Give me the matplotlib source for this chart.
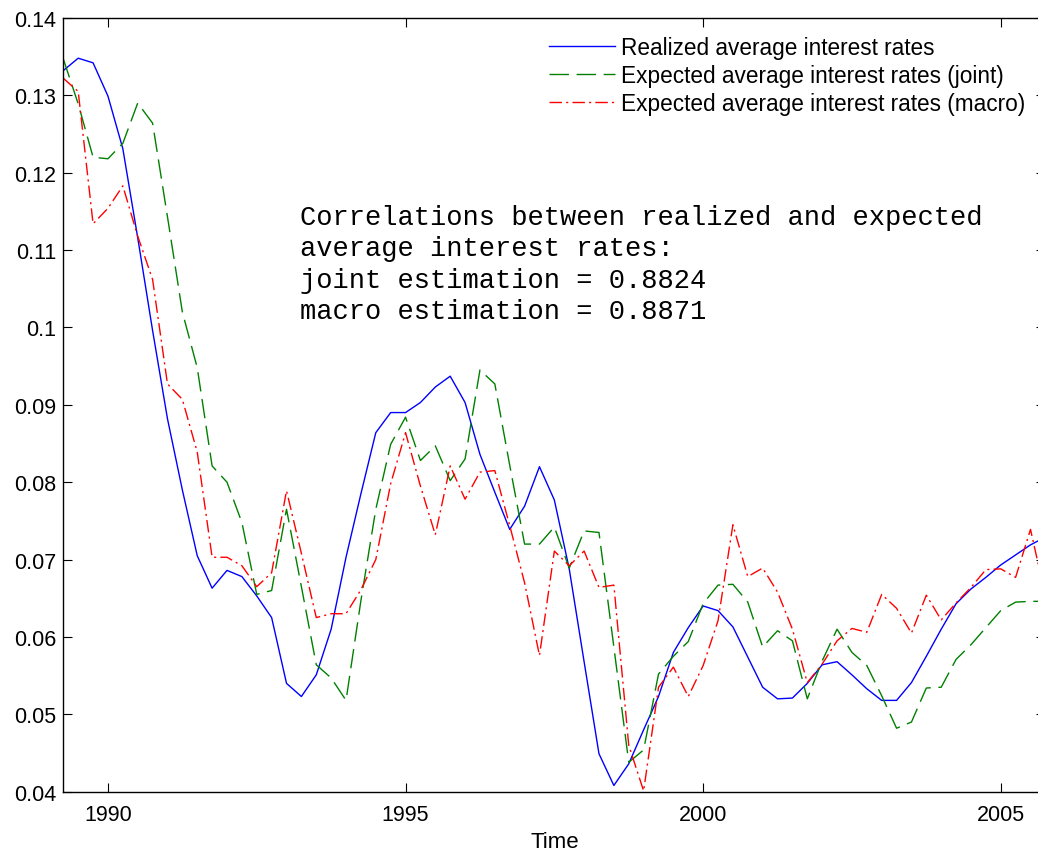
import numpy as np
import matplotlib
matplotlib.use("Agg")
import matplotlib.pyplot as plt

# quarterly observations, 1989Q2 .. 2005Q4
t = 1989.25 + 0.25 * np.arange(67)

realized = [0.1332, 0.1348, 0.1342, 0.1299, 0.1231, 0.1116, 0.0996, 0.0882, 0.0790, 0.0705,
            0.0663, 0.0686, 0.0678, 0.0653, 0.0625, 0.0540, 0.0523, 0.0551, 0.0610, 0.0703,
            0.0785, 0.0864, 0.0890, 0.0890, 0.0903, 0.0923, 0.0937, 0.0903, 0.0836, 0.0787,
            0.0739, 0.0769, 0.0820, 0.0777, 0.0688, 0.0568, 0.0449, 0.0408, 0.0436, 0.0480,
            0.0523, 0.0580, 0.0612, 0.0640, 0.0634, 0.0613, 0.0574, 0.0535, 0.0520, 0.0521,
            0.0540, 0.0564, 0.0568, 0.0551, 0.0533, 0.0518, 0.0518, 0.0541, 0.0575, 0.0610,
            0.0643, 0.0662, 0.0677, 0.0693, 0.0706, 0.0719, 0.0729]

joint = [0.1347, 0.1289, 0.1220, 0.1218, 0.1238, 0.1290, 0.1264, 0.1143, 0.1020, 0.0948,
         0.0821, 0.0800, 0.0748, 0.0655, 0.0660, 0.0765, 0.0665, 0.0564, 0.0547, 0.0518,
         0.0647, 0.0765, 0.0849, 0.0884, 0.0828, 0.0847, 0.0802, 0.0830, 0.0945, 0.0927,
         0.0822, 0.0720, 0.0720, 0.0742, 0.0689, 0.0737, 0.0735, 0.0587, 0.0438, 0.0454,
         0.0552, 0.0575, 0.0594, 0.0643, 0.0667, 0.0668, 0.0645, 0.0587, 0.0608, 0.0595,
         0.0520, 0.0569, 0.0610, 0.0580, 0.0563, 0.0524, 0.0482, 0.0490, 0.0534, 0.0535,
         0.0571, 0.0590, 0.0612, 0.0634, 0.0645, 0.0646, 0.0646]

macro = [0.1322, 0.1305, 0.1134, 0.1154, 0.1183, 0.1118, 0.1062, 0.0927, 0.0907, 0.0839,
         0.0703, 0.0703, 0.0692, 0.0665, 0.0683, 0.0789, 0.0708, 0.0625, 0.0630, 0.0630,
         0.0661, 0.0700, 0.0798, 0.0864, 0.0795, 0.0732, 0.0821, 0.0778, 0.0813, 0.0815,
         0.0744, 0.0670, 0.0576, 0.0711, 0.0692, 0.0711, 0.0664, 0.0667, 0.0460, 0.0401,
         0.0535, 0.0561, 0.0523, 0.0563, 0.0621, 0.0745, 0.0678, 0.0689, 0.0658, 0.0610,
         0.0541, 0.0565, 0.0595, 0.0611, 0.0606, 0.0655, 0.0637, 0.0605, 0.0654, 0.0622,
         0.0644, 0.0664, 0.0687, 0.0688, 0.0677, 0.0739, 0.0653]

corr_joint = 0.8824
corr_macro = 0.8871

yticks = [0.04, 0.05, 0.06, 0.07, 0.08, 0.09, 0.1, 0.11, 0.12, 0.13, 0.14]
xticks = [1990, 1995, 2000, 2005]

plt.rcParams['font.family'] = ['Liberation Sans', 'DejaVu Sans']
plt.rcParams['lines.scale_dashes'] = False

fig = plt.figure(figsize=(10.38, 8.54), dpi=100)
ax = fig.add_axes([0.061, 0.0718, 0.9461, 0.906])

ax.plot(t, realized, color='b', lw=1.0, label='Realized average interest rates')
ax.plot(t, joint, color=(0, 0.5, 0), lw=1.0, dashes=(14, 5.5),
        label='Expected average interest rates (joint)')
ax.plot(t, macro, color='r', lw=1.0, dashes=(9, 3, 1.5, 3),
        label='Expected average interest rates (macro)')

ax.set_xlim(1989.25, 2005.75)
ax.set_ylim(0.04, 0.14)
ax.set_xticks(xticks)
ax.set_yticks(yticks)
ax.set_yticklabels(['%g' % v for v in yticks])
ax.tick_params(direction='in', length=6.5, width=0.8, labelsize=15.5,
               top=True, right=True)
ax.tick_params(axis='x', pad=9)
ax.tick_params(axis='y', pad=5)
for s in ax.spines.values():
    s.set_linewidth(1.0)

ax.set_xlabel('Time', fontsize=16, labelpad=4)

ax.legend(loc='upper left', bbox_to_anchor=(0.529, 0.957), bbox_transform=fig.transFigure,
          frameon=False, fontsize=16.3, handlelength=2.9, handletextpad=0.27,
          labelspacing=0.22, borderpad=0, borderaxespad=0)

txt = ('Correlations between realized and expected\n'
       'average interest rates:\n'
       'joint estimation = %.4f\n'
       'macro estimation = %.4f' % (corr_joint, corr_macro))
ax.text(1993.23, 0.1160, txt, family='Liberation Mono', fontsize=19.5,
        va='top', ha='left', linespacing=1.276)

fig.savefig('out.png', dpi=100)
